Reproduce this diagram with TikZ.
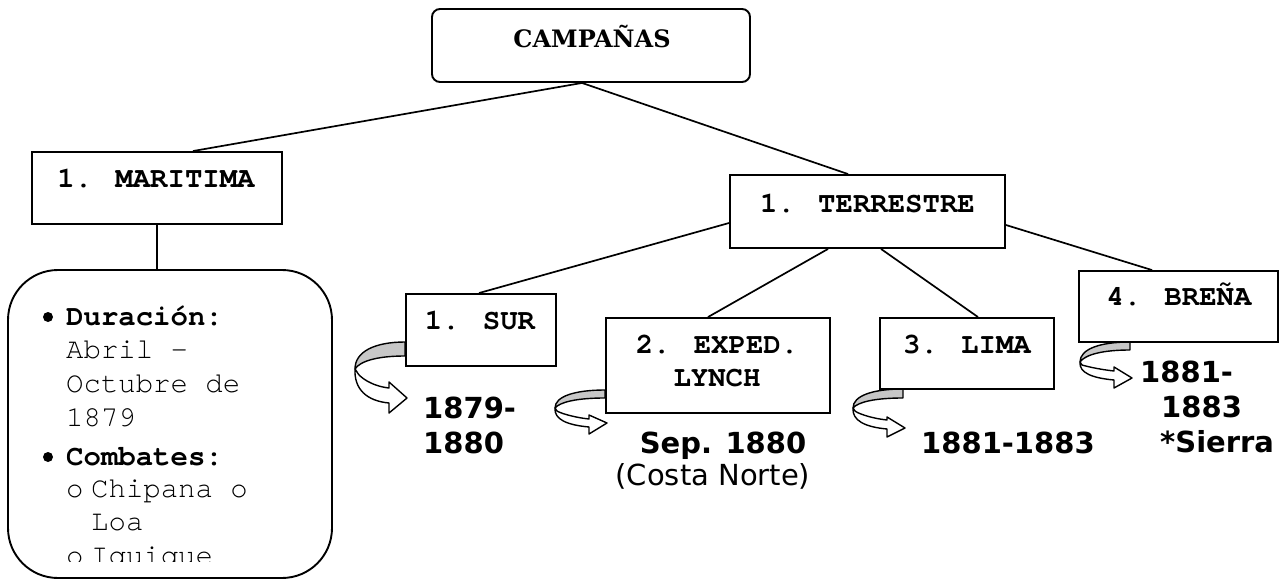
\documentclass[tikz,border=0pt]{standalone}
\usepackage{fontspec}
\setmainfont{DejaVu Sans}
\newfontfamily\monofnt{TeX Gyre Cursor}
\newfontfamily\slabfnt{DejaVu Serif}
% #1 origin, #2 band thickness, #3 leftmost y, #4 shaft upper, #5 shaft lower,
% #6 barb top, #7 barb bottom, #8 tip y
\newcommand\ribbonarrow[8]{%
  \begin{scope}[shift={#1}]
    \path[ribbon, fill=black!22] (0,0) .. controls (-30,0) and (-50,{0.35*#3}) .. (-50,#3)
      .. controls (-45,{#2+0.4*(#3-#2)}) and (-28,#2) .. (0,#2) -- cycle;
    \path[ribbon, fill=white] (-50,#3) .. controls (-51,{#3+0.6*(#5-#3)}) and (-38,{#5-2}) .. (-16,#5)
      -- (-16,#7) -- (2,#8) -- (-16,#6) -- (-16,#4)
      .. controls (-34,{#4-2}) and (-46,{#3+0.4*(#4-#3)}) .. (-48,{#3+3}) -- cycle;
  \end{scope}}
\begin{document}
\begin{tikzpicture}[x=1pt,y=-1pt,
  box/.style={draw, line width=1.9pt, fill=white, inner sep=0pt, rectangle},
  lbl/.style={font=\monofnt\bfseries\fontsize{29}{33}\selectfont, inner sep=0pt, anchor=base},
  body/.style={font=\monofnt\fontsize{29}{33}\selectfont, inner sep=0pt, anchor=base west},
  bodyb/.style={body, font=\monofnt\bfseries\fontsize{29}{33}\selectfont},
  year/.style={font=\bfseries\fontsize{29}{33}\selectfont, inner sep=0pt, anchor=base west},
  yearc/.style={year, anchor=base},
  plain/.style={font=\fontsize{29}{33}\selectfont, inner sep=0pt, anchor=base},
  conn/.style={line width=1.7pt},
  ribbon/.style={draw, line width=1.4pt, line join=round},
  bullet/.style={circle, fill, inner sep=0pt, minimum size=10pt},
]
\useasboundingbox[fill=white] (0,0) rectangle (1288,583);

% curved arrows
\ribbonarrow{(405,342)}{14}{27}{46}{61}{40}{71}{56}
\ribbonarrow{(605,390)}{8}{18}{29}{37}{25}{44}{33}
\ribbonarrow{(903,389)}{9}{19}{31}{40}{28}{48}{39}
\ribbonarrow{(1130,342)}{8}{20}{29}{38}{25}{46}{36}

% boxes
\node[box, rounded corners=8pt, minimum width=318pt, minimum height=73pt] (campanas) at (591,45.5) {};
\node[box, minimum width=250pt, minimum height=72pt] (maritima) at (157,188) {};
\node[box, minimum width=275pt, minimum height=73pt] (terrestre) at (867.5,211.5) {};
\node[box, minimum width=150pt, minimum height=72pt] (sur) at (481,330) {};
\node[box, minimum width=224pt, minimum height=95pt] (exped) at (718,365.5) {};
\node[box, minimum width=174pt, minimum height=71pt] (lima) at (967,353.5) {};
\node[box, minimum width=199pt, minimum height=71pt] (brena) at (1178.5,306.5) {};
\node[box, rounded corners=50pt, minimum width=324pt, minimum height=308pt] (detalle) at (170,424) {};

% connectors
\draw[conn] ([xshift=-9pt]campanas.south) -- ([xshift=36pt]maritima.north);
\draw[conn] ([xshift=-9pt]campanas.south) -- ([xshift=-19.5pt]terrestre.north);
\draw[conn] (maritima.south) -- (maritima.south |- detalle.north);
\draw[conn] ([yshift=-11.5pt]terrestre.west) -- ([xshift=-2pt]sur.north);
\draw[conn] ([xshift=-39.5pt]terrestre.south) -- ([xshift=-10pt]exped.north);
\draw[conn] ([xshift=13.5pt]terrestre.south) -- ([xshift=11pt]lima.north);
\draw[conn] ([yshift=-13.5pt]terrestre.east) -- ([xshift=-26.5pt]brena.north);

% box labels
\node[inner sep=0pt, anchor=base, font=\slabfnt\bfseries\fontsize{24}{28}\selectfont] (tcamp) at (592,48) {CAMPAÑAS};
\node[lbl] (tmar) at (156,187) {1. MARITIMA};
\node[lbl] (tter) at (867.5,212) {1. TERRESTRE};
\node[lbl] (tsur) at (480,329) {1. SUR};
\node[lbl] (texp1) at (717,353) {2. EXPED.};
\node[lbl] (texp2) at (717,386) {LYNCH};
\node[lbl] (tlim) at (967,353) {3. LIMA};
\node[lbl] (tbre) at (1179,305) {4. BREÑA};

% years
\node[year] (y1a) at (423,418) {1879-};
\node[year] (y1b) at (423,453) {1880};
\node[yearc] (y2a) at (723,453) {Sep. 1880};
\node[plain] (y2b) at (713,485) {(Costa Norte)};
\node[year] (y3) at (921,453) {1881-1883};
\node[year] (y4a) at (1140,382) {1881-};
\node[year] (y4b) at (1161,417) {1883};
\node[year] (y4c) at (1160,452) {*Sierra};

% detail text
\begin{scope}
  \clip (8,270) rectangle (332,561);
  \node[bullet] (b1) at (48,317) {};
  \node[bodyb] (d1) at (66,325) {Duración:};
  \node[body] (d2) at (66,358) {Abril -};
  \node[body] (d3) at (66,392) {Octubre de};
  \node[body] (d4) at (66,426) {1879};
  \node[bullet] (b2) at (48,457) {};
  \node[bodyb] (c1) at (66,465) {Combates:};
  \node[body] (c2) at (66,497) {o};
  \node[body] (c3) at (91,497) {Chipana o};
  \node[body] (c4) at (91,530) {Loa};
  \node[body] (c5) at (66,564) {o};
  \node[body] (c6) at (91,564) {Iquique};
\end{scope}
\end{tikzpicture}
\end{document}
